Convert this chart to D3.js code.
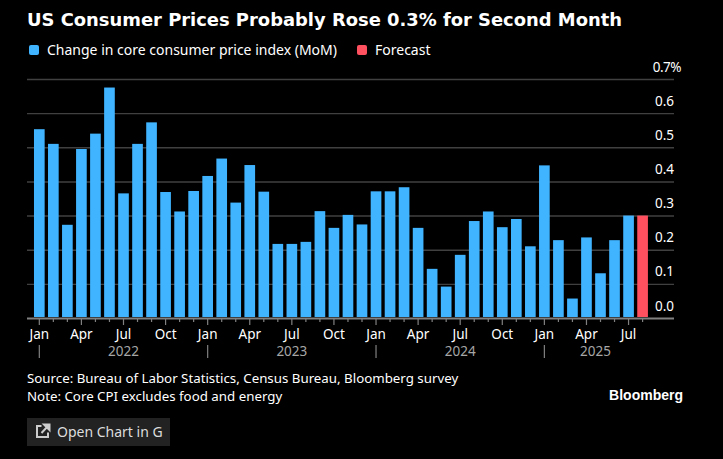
<!DOCTYPE html>
<html>
<head>
<meta charset="utf-8">
<script src="https://cdn.jsdelivr.net/npm/d3@7"></script>
<style>
    html, body { margin: 0; padding: 0; background: #000; overflow: hidden; }
    text { font-family: "Noto Sans", sans-serif; }
    .title { font-family: "DejaVu Sans", sans-serif; font-weight: 700; font-size: 18px; fill: #fff; }
    .label { font-size: 14px; fill: #fff; }
    .foot { font-size: 13.3px; fill: #fff; }
    .tick-lbl { font-size: 13.5px; fill: #fff; }
    .year-lbl { font-size: 13.5px; fill: #a6a6a6; }
</style>
</head>
<body>
<svg id="chart" width="723" height="459"></svg>
<script>
'use strict';

const month_names = ['Jan', 'Feb', 'Mar', 'Apr', 'May', 'Jun', 'Jul', 'Aug', 'Sep', 'Oct', 'Nov', 'Dec'];
const years = [2022, 2023, 2024, 2025];

// MoM change, Jan 2022 to Jul 2025
const actual_vals = [
    0.553, 0.51, 0.273, 0.495, 0.54, 0.675, 0.365, 0.51, 0.573, 0.369, 0.312, 0.372,
    0.416, 0.467, 0.338, 0.448, 0.37, 0.217, 0.217, 0.223, 0.313, 0.264, 0.302, 0.274,
    0.371, 0.371, 0.383, 0.264, 0.144, 0.092, 0.185, 0.284, 0.312, 0.266, 0.29, 0.21,
    0.447, 0.228, 0.057, 0.236, 0.131, 0.228, 0.30
];
const forecast_vals = [0.30];
const y_ticks = [0, 0.1, 0.2, 0.3, 0.4, 0.5, 0.6, 0.7];

const months = [];
years.forEach(y => month_names.forEach((m, i) => months.push({ key: y + '-' + i, year: y, m: i, name: m })));
const all_months = months.slice(0, actual_vals.length + forecast_vals.length);
const bars = all_months.map((d, i) => ({
    key: d.key,
    val: i < actual_vals.length ? actual_vals[i] : forecast_vals[i - actual_vals.length],
    forecast: i >= actual_vals.length
}));

const svg = d3.select('#chart');

const C_ACTUAL = '#40b4ff', C_FORECAST = '#ff5060';

const x_scale = d3.scaleBand()
    .domain(all_months.map(d => d.key))
    .range([32.3, 649.6])
    .paddingInner(0.24)
    .paddingOuter(0.12);
const y_scale = d3.scaleLinear().domain([0, 0.7]).range([318, 79]);

// title + legend
svg.append('text').attr('class', 'title').attr('x', 27).attr('y', 26)
    .attr('textLength', 595).attr('lengthAdjust', 'spacingAndGlyphs')
    .text('US Consumer Prices Probably Rose 0.3% for Second Month');

svg.append('rect').attr('x', 29).attr('y', 45).attr('width', 10).attr('height', 10).attr('rx', 2).attr('fill', C_ACTUAL);
svg.append('text').attr('class', 'label').attr('x', 47).attr('y', 55)
    .text('Change in core consumer price index (MoM)');
svg.append('rect').attr('x', 357).attr('y', 45).attr('width', 10).attr('height', 10).attr('rx', 2).attr('fill', C_FORECAST);
svg.append('text').attr('class', 'label').attr('x', 375).attr('y', 55).text('Forecast');

// grid lines, y labels sit on top of each line
const y_axis = d3.axisRight(y_scale).tickValues(y_ticks).tickSize(0)
    .tickFormat(d => d === 0.7 ? d3.format('.1f')(d) + '%' : d3.format('.1f')(d));
const y_g = svg.append('g').attr('transform', 'translate(674,0)').call(y_axis);
y_g.select('.domain').remove();
y_g.selectAll('.tick text')
    .attr('class', 'tick-lbl')
    .attr('text-anchor', 'end')
    .attr('x', d => d === 0.7 ? 7 : 0)
    .attr('dy', 0)
    .attr('y', -8)
    .style('letter-spacing', d => d === 0.7 ? '-0.5px' : null);
y_g.selectAll('.tick').append('line')
    .attr('x1', -647).attr('x2', 0).attr('y1', 0).attr('y2', 0)
    .attr('stroke', d => d === 0 ? '#808080' : '#404040')
    .attr('stroke-width', d => d === 0 ? 2 : 1.4);

// bars
svg.append('g').selectAll('rect')
    .data(bars)
    .enter()
    .append('rect')
    .attr('x', d => x_scale(d.key))
    .attr('y', d => y_scale(d.val))
    .attr('width', x_scale.bandwidth())
    .attr('height', d => y_scale(0) - 1 - y_scale(d.val))
    .attr('fill', d => d.forecast ? C_FORECAST : C_ACTUAL);

// month ticks
const x_axis = d3.axisBottom(x_scale).tickSize(0).tickFormat('');
const x_g = svg.append('g').attr('transform', 'translate(0,318)').call(x_axis);
x_g.select('.domain').remove();
x_g.selectAll('.tick text').remove();
x_g.selectAll('.tick').append('line')
    .attr('y1', 0)
    .attr('y2', (d, i) => all_months[i].m % 3 === 0 ? 7 : 4)
    .attr('stroke', '#808080').attr('stroke-width', 1.2);
x_g.selectAll('.tick').filter((d, i) => all_months[i].m % 3 === 0)
    .append('text').attr('class', 'tick-lbl')
    .attr('text-anchor', 'middle').attr('y', 21).attr('fill', '#fff')
    .text((d) => all_months.find(m => m.key === d).name);

// year row
const mid_x = k => x_scale(k) + x_scale.bandwidth() / 2;
years.forEach(y => {
    const xj = mid_x(y + '-0');
    svg.append('line').attr('x1', xj).attr('x2', xj).attr('y1', 345).attr('y2', 358)
        .attr('stroke', '#808080').attr('stroke-width', 1.2);
    // 2025 is a part year: label goes midway through the months shown
    const in_year = all_months.filter(d => d.year === y);
    const lx = in_year.length === 12 ? mid_x(y + '-6') : (xj + mid_x(in_year[in_year.length - 1].key)) / 2 + 2;
    svg.append('text').attr('class', 'year-lbl').attr('text-anchor', 'middle')
        .attr('x', lx).attr('y', 356).text(y);
});

// footer
svg.append('text').attr('class', 'foot').attr('x', 27).attr('y', 383)
    .text('Source: Bureau of Labor Statistics, Census Bureau, Bloomberg survey');
svg.append('text').attr('class', 'foot').attr('x', 27).attr('y', 401)
    .text('Note: Core CPI excludes food and energy');
svg.append('text').attr('x', 683).attr('y', 400).attr('text-anchor', 'end')
    .attr('fill', '#fff').style('font-family', '"Liberation Sans", sans-serif')
    .style('font-weight', 700).style('font-size', '14px').text('Bloomberg');

// button
svg.append('rect').attr('x', 27).attr('y', 418).attr('width', 143).attr('height', 28).attr('fill', '#222');
svg.append('path')
    .attr('d', 'M41.5 426 H37 V437 H48 V432.5')
    .attr('fill', 'none').attr('stroke', '#ccc').attr('stroke-width', 2);
svg.append('path')
    .attr('d', 'M44 424.5 H49.5 V430 Z M48 426 L41.5 433')
    .attr('fill', '#ccc').attr('stroke', '#ccc').attr('stroke-width', 2);
svg.append('text').attr('class', 'label').attr('x', 57).attr('y', 437).style('fill', '#ddd').text('Open Chart in G');
</script>
</body>
</html>
